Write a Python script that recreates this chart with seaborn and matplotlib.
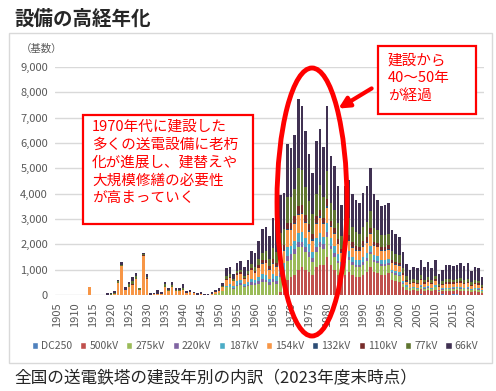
"""
Stacked bars: transmission towers in Japan by construction year and voltage class.
"""

import pandas as pd
import matplotlib
matplotlib.use("Agg")
import matplotlib.pyplot as plt
from matplotlib.patches import Rectangle, Ellipse, FancyArrowPatch, Patch
from matplotlib.transforms import Affine2D
import seaborn as sns

# ---------------------------------------------------------------------------
# Data
# ---------------------------------------------------------------------------
YEARS = list(range(1905, 2024))
LEVELS = ["DC250", "500kV", "275kV", "220kV", "187kV",
          "154kV", "132kV", "110kV", "77kV", "66kV"]
COLORS = ["#4F81BD", "#C0504D", "#9BBB59", "#8064A2", "#4BACC6",
          "#F79646", "#2C4D75", "#772C2A", "#5F7530", "#403152"]
XTICKS = list(range(1905, 2021, 5))
YTICKS = list(range(0, 9001, 1000))

dc250 = ([0] * 101 + [30] + [0] * 5 + [20] + [0, 0] + [40, 30] + [0] * 7)

kv500 = ([0] * 62 + [100, 300, 600]
         + [700, 800, 1000, 1100, 1000, 900, 800, 1100, 1200, 1200]
         + [1500, 1200, 1000, 800, 600, 800, 900, 800, 700, 700]
         + [800, 900, 1100, 900, 850, 800, 800, 850, 600, 550]
         + [500, 300, 200, 150, 180, 150, 200, 160, 180, 150]
         + [200, 100, 120, 150, 150, 130, 150, 160, 140, 160]
         + [120, 140, 130, 90])

kv275 = ([0] * 44 + [40]
         + [60, 150, 300, 300, 250, 350, 400, 300, 350, 400]
         + [400, 450, 500, 500, 400, 500, 450, 600, 550, 750]
         + [700, 800, 900, 800, 700, 600, 500, 600, 700, 600]
         + [800, 600, 500, 450, 400, 450, 500, 400, 400, 400]
         + [400, 450, 500, 400, 400, 350, 350, 350, 250, 250]
         + [250, 150, 100, 80, 80, 80, 100, 80, 100, 80]
         + [100, 60, 70, 80, 80, 70, 80, 80, 80, 80]
         + [60, 80, 70, 50])

kv220 = ([0] * 45
         + [0, 0, 0, 30, 30, 50, 60, 40, 60, 100]
         + [80, 100, 120, 100, 100, 120, 100, 150, 150, 200]
         + [200, 200, 200, 200, 200, 200, 150, 200, 200, 200]
         + [200, 150, 150, 100, 100, 100, 100, 100, 100, 80]
         + [100, 100, 100, 80, 80, 80, 80, 80, 50, 50]
         + [50, 40, 30, 20, 20, 20, 30, 20, 20, 20]
         + [30, 20, 20, 20, 20, 20, 20, 20, 20, 20]
         + [20, 20, 20, 10])

kv187 = ([0] * 45
         + [0, 0, 50, 100, 80, 150, 120, 80, 120, 150]
         + [100, 150, 200, 200, 150, 200, 200, 250, 250, 350]
         + [350, 350, 350, 400, 350, 300, 250, 350, 350, 300]
         + [350, 300, 300, 250, 200, 250, 250, 200, 200, 200]
         + [200, 200, 250, 200, 200, 150, 150, 150, 100, 100]
         + [100, 80, 50, 40, 40, 40, 50, 40, 50, 40]
         + [50, 30, 40, 40, 40, 40, 40, 50, 40, 50]
         + [30, 40, 40, 30])

kv154 = ([0] * 9 + [300] + [0] * 6
         + [30, 480, 1150, 200, 300, 400, 650, 200, 1550]
         + [650, 0, 40, 50, 50, 300, 150, 300, 150, 150]
         + [200, 80, 100, 60, 0, 50, 0, 0, 40, 80]
         + [100, 150, 250, 250, 180, 250, 250, 200, 250, 350]
         + [300, 350, 400, 450, 350, 400, 350, 500, 500, 650]
         + [600, 650, 700, 700, 600, 500, 450, 550, 600, 500]
         + [600, 450, 450, 400, 350, 400, 400, 350, 350, 350]
         + [400, 400, 450, 350, 350, 350, 350, 350, 250, 250]
         + [250, 200, 150, 130, 140, 130, 170, 140, 160, 130]
         + [170, 100, 120, 150, 150, 140, 150, 160, 140, 160]
         + [120, 140, 140, 90])

kv132 = ([0] * 56
         + [30, 30, 30, 30, 40, 30, 40, 40, 50]
         + [50, 50, 50, 50, 50, 50, 50, 50, 50, 50]
         + [50, 40, 40, 30, 30, 30, 30, 30, 30, 30]
         + [30, 30, 30, 30, 30, 30, 30, 30, 20, 20]
         + [20, 20, 10, 10, 10, 10, 10, 10, 10, 10]
         + [10, 10, 10, 10, 10, 10, 10, 10, 10, 10]
         + [10, 10, 10, 10])

kv110 = ([0] * 21 + [50, 0, 0, 20] + [30] + [0] * 21
         + [50, 50, 30, 50, 60, 50, 60, 80]
         + [80, 100, 120, 120, 100, 150, 150, 200, 200, 250]
         + [250, 250, 300, 300, 250, 250, 200, 250, 250, 200]
         + [300, 200, 200, 200, 150, 200, 200, 200, 150, 150]
         + [200, 200, 200, 150, 150, 150, 150, 150, 100, 100]
         + [100, 80, 60, 50, 50, 50, 60, 50, 60, 50]
         + [60, 40, 40, 50, 50, 50, 50, 60, 50, 50]
         + [40, 50, 50, 30])

kv77 = ([0] * 15
        + [20, 40, 60, 50, 0, 150, 100, 100, 70, 40]
        + [50, 0, 0, 0, 0, 130, 50, 100, 50, 40]
        + [80, 0, 0, 0, 0, 0, 0, 0, 0, 0]
        + [0, 50, 100, 80, 50, 80, 100, 80, 120, 150]
        + [150, 250, 300, 350, 300, 450, 400, 600, 600, 1000]
        + [1000, 1100, 1500, 1400, 1100, 900, 800, 900, 1000, 800]
        + [1100, 700, 700, 600, 500, 600, 650, 600, 550, 500]
        + [550, 600, 700, 550, 500, 450, 450, 450, 350, 300]
        + [300, 200, 150, 100, 110, 110, 130, 110, 130, 100]
        + [130, 80, 100, 120, 120, 110, 110, 120, 110, 120]
        + [100, 110, 100, 70])

kv66 = ([0] * 14 + [60]
        + [60, 80, 60, 100, 100, 50, 150, 100, 0, 40]
        + [100, 90, 50, 150, 80, 100, 70, 100, 70, 80]
        + [160, 90, 100, 70, 70, 60, 30, 40, 60, 80]
        + [100, 140, 300, 290, 200, 350, 350, 340, 420, 520]
        + [560, 700, 930, 950, 900, 1170, 1220, 1520, 1430, 2130]
        + [1950, 2100, 2720, 2500, 2210, 1880, 1610, 2070, 2210, 1990]
        + [2580, 1830, 1740, 1470, 1230, 1470, 1520, 1320, 1270, 1230]
        + [1360, 1420, 1670, 1340, 1200, 1150, 1190, 1230, 850, 780]
        + [730, 630, 470, 410, 460, 460, 600, 510, 610, 500]
        + [630, 390, 450, 560, 560, 530, 540, 590, 550, 600]
        + [460, 530, 520, 340])

SERIES = [dc250, kv500, kv275, kv220, kv187, kv154, kv132, kv110, kv77, kv66]

rows = []
for level, values in zip(LEVELS, SERIES):
    assert len(values) == len(YEARS), level
    for year, v in zip(YEARS, values):
        rows.append({"year": year, "voltage": level, "count": v})
df = pd.DataFrame(rows)

# ---------------------------------------------------------------------------
# Plot
# ---------------------------------------------------------------------------
sns.set_style("white")
plt.rcParams["font.family"] = ["Noto Sans CJK JP", "DejaVu Sans"]

W, H = 496, 391
GRAY = "#595959"
RED = "#FF0000"

fig = plt.figure(figsize=(W / 100, H / 100), dpi=100)
# pixel coordinates, origin top-left
pix = Affine2D().scale(1 / W, -1 / H).translate(0, 1) + fig.transFigure

ax = fig.add_axes([55 / W, 1 - 295 / H, (484 - 55) / W, (295 - 67) / H])
# seaborn stacks the first hue level on top, so feed the order reversed
sns.histplot(data=df, x="year", weights="count", hue="voltage",
             hue_order=LEVELS[::-1], palette=COLORS[::-1], multiple="stack",
             discrete=True, shrink=0.7, linewidth=0, alpha=1,
             legend=False, ax=ax)

ax.set_xlim(1904.5, 2023.5)
ax.set_ylim(0, 9000)
ax.set_xticks(XTICKS)
ax.set_xticklabels([str(y) for y in XTICKS], rotation=90)
ax.set_yticks(YTICKS)
ax.set_yticklabels([f"{v:,}" for v in YTICKS])
ax.tick_params(length=0, colors=GRAY, labelsize=8, pad=5)
ax.yaxis.grid(True, color="#D9D9D9", lw=1)
ax.set_axisbelow(True)
ax.set_xlabel("")
ax.set_ylabel("")
for s in ax.spines.values():
    s.set_visible(False)

# legend along the bottom of the chart frame
handles = [Patch(facecolor=c, label=l) for l, c in zip(LEVELS, COLORS)]
fig.legend(handles=handles, ncol=10, loc="center",
           bbox_to_anchor=(255 / W, 1 - 346 / H), frameon=False,
           fontsize=7.5, labelcolor=GRAY, handlelength=0.6, handleheight=0.6,
           handletextpad=0.3, columnspacing=0.75)

# chart frame, titles
fig.add_artist(Rectangle((9, 33), 483, 330, transform=pix, fill=False,
                         edgecolor="#D9D9D9", lw=1))
fig.text(14, 19, "設備の高経年化", transform=pix, fontsize=14,
         fontweight="bold", va="center", ha="left")
fig.text(21, 49, "（基数）", transform=pix, fontsize=7.5, color=GRAY,
         va="center", ha="left")
fig.text(14, 379, "全国の送電鉄塔の建設年別の内訳（2023年度末時点）",
         transform=pix, fontsize=12, va="center", ha="left")

# callouts
fig.add_artist(Rectangle((83, 115), 170, 109, transform=pix,
                         facecolor="white", edgecolor=RED, lw=1.6))
fig.text(92, 120, "1970年代に建設した\n多くの送電設備に老朽\n化が進展し、建替えや\n"
         "大規模修繕の必要性\nが高まっていく",
         transform=pix, fontsize=10.5, color=RED, va="top", ha="left",
         linespacing=1.35)

fig.add_artist(Rectangle((378, 46), 98, 68, transform=pix,
                         facecolor="white", edgecolor=RED, lw=1.6))
fig.text(388, 54, "建設から\n40～50年\nが経過", transform=pix, fontsize=10.5,
         color=RED, va="top", ha="left", linespacing=1.3)

fig.add_artist(Ellipse((312, 202), 70, 268, transform=pix, fill=False,
                       edgecolor=RED, lw=3.5))
fig.add_artist(FancyArrowPatch((374, 87), (336, 110), transform=pix,
                               arrowstyle="-|>", mutation_scale=16,
                               color=RED, lw=3))

fig.savefig("out.png", dpi=100)
